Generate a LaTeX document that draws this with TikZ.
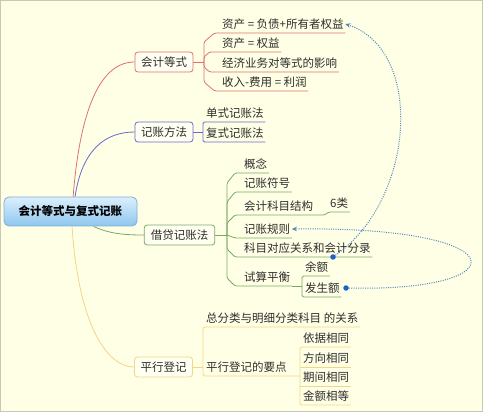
\documentclass[tikz,border=0pt]{standalone}
\usepackage{fontspec}
\setmainfont{Noto Sans CJK SC}
\usetikzlibrary{arrows.meta,calc}

\definecolor{bg}{HTML}{FFFFE6}
\definecolor{frame}{HTML}{C8C8B4}
\definecolor{boxfill}{HTML}{FFFFF2}
\definecolor{txt}{HTML}{2E2E2E}
\definecolor{redc}{HTML}{E07070}
\definecolor{bluec}{HTML}{6A6AD0}
\definecolor{greenc}{HTML}{78AA64}
\definecolor{yellowc}{HTML}{F2D585}
\definecolor{linkc}{HTML}{4A86C0}
\definecolor{dotc}{HTML}{1B62C4}
\definecolor{roottop}{HTML}{DCEFFC}
\definecolor{rootbot}{HTML}{8EC6EE}
\definecolor{rootb}{HTML}{7FAED6}

\begin{document}
\begin{tikzpicture}[x=1pt, y=-1pt,
  font=\fontsize{11.5}{14}\selectfont,
  topic/.style={rectangle, rounded corners=3pt, draw, line width=0.8pt, fill=boxfill, text=txt,
    minimum height=20pt, inner xsep=6pt, inner ysep=0pt},
  leaf/.style={anchor=south west, inner xsep=1.5pt, inner ysep=3pt, text height=10pt, text depth=1.6pt, text=txt},
  branch/.style={line width=0.8pt, rounded corners=1.5pt},
  link/.style={draw=linkc, line width=1pt, dash pattern=on 1pt off 1.3pt, -{Stealth[length=5pt,width=4.5pt]}},
  dot/.style={circle, fill=dotc, inner sep=0pt, minimum size=5.5pt}]

  \useasboundingbox (0,0) rectangle (483,412);
  \draw[fill=bg, draw=frame, line width=1pt] (0.5,0.5) rectangle (482.5,411.5);

  % centre
  \node[topic, draw=rootb, rounded corners=5pt, top color=roottop, bottom color=rootbot,
    minimum width=133pt, minimum height=29pt, font=\fontsize{11.5}{14}\selectfont\bfseries, text=black]
    (root) at (70.5,211.5) {会计等式与复式记账};

  % 会计等式
  \node[topic, draw=redc] (eq) at (164,62) {会计等式};
  \node[leaf] (eq1) at (220.5,33) {资产 = 负债+所有者权益};
  \node[leaf] (eq2) at (220.5,52) {资产 = 权益};
  \node[leaf] (eq3) at (220.5,72) {经济业务对等式的影响};
  \node[leaf] (eq4) at (220.5,91) {收入-费用 = 利润};
  \coordinate (eqJ) at (204,62);
  \draw[branch, redc] (root.80) .. controls (80,110) and (100,62) .. (eq.west);
  \draw[branch, redc] (eq.east) -- (eqJ);
  \draw[branch, redc] (eqJ) -- (204,42) -- ([xshift=-6pt]eq1.south west) -- (eq1.south east);
  \draw[branch, redc] (eqJ) -- (204,57) -- ([xshift=-11pt]eq2.south west) -- (eq2.south east);
  \draw[branch, redc] (eqJ) -- (204,67) -- ([xshift=-11pt]eq3.south west) -- (eq3.south east);
  \draw[branch, redc] (eqJ) -- (204,82) -- ([xshift=-6pt]eq4.south west) -- (eq4.south east);

  % 记账方法
  \node[topic, draw=bluec] (md) at (164,132) {记账方法};
  \node[leaf] (md1) at (204.5,122) {单式记账法};
  \node[leaf] (md2) at (204.5,142) {复式记账法};
  \draw[branch, bluec] (root.73) .. controls (82,150) and (105,132) .. (md.west);
  \draw[branch, bluec] (md.east) -- (203,132);
  \draw[branch, bluec] (md1.south east) -- ([xshift=-1.5pt]md1.south west)
    -- ([xshift=-1.5pt]md2.south west) -- (md2.south east);

  % 借贷记账法
  \node[topic, draw=greenc, inner xsep=6.5pt] (dc) at (179.5,235) {借贷记账法};
  \node[leaf] (dc1) at (242.5,173) {概念};
  \node[leaf] (dc2) at (242.5,192) {记账符号};
  \node[leaf] (dc3) at (242.5,215) {会计科目结构};
  \node[leaf] (dc4) at (242.5,238) {记账规则};
  \node[leaf] (dc5) at (242.5,257) {科目对应关系和会计分录};
  \node[leaf] (dc6) at (242.5,286) {试算平衡};
  \node[leaf] (six) at (328.5,212) {6类};
  \node[leaf] (ye) at (303.5,276) {余额};
  \node[leaf] (fs) at (303.5,297) {发生额};
  \coordinate (dcJ) at (227,235);
  \coordinate (tsJ) at (302,286);
  \draw[branch, greenc] (root.-33) .. controls (110,234) and (125,235) .. (dc.west);
  \draw[branch, greenc] (dc.east) -- (dcJ);
  \draw[branch, greenc] (dcJ) -- (227,183) -- ([xshift=-7.5pt]dc1.south west) -- (dc1.south east);
  \draw[branch, greenc] (dcJ) -- (227,202) -- ([xshift=-7.5pt]dc2.south west) -- (dc2.south east);
  \draw[branch, greenc] (dcJ) -- (227,223) -- ([xshift=-7.5pt]dc3.south west) -- (dc3.south east);
  \draw[branch, greenc] (dcJ) -- ([xshift=-7.5pt]dc4.south west) -- (dc4.south east);
  \draw[branch, greenc] (dcJ) -- (227,249) -- ([xshift=-7.5pt]dc5.south west) -- (dc5.south east);
  \draw[branch, greenc] (dcJ) -- (227,278) -- ([xshift=-7.5pt]dc6.south west) -- (dc6.south east);
  \draw[branch, greenc] (dc3.south east) -- +(10,0) -- (six.south west) -- (six.south east);
  \draw[branch, greenc] (dc6.south east) -- (tsJ);
  \draw[branch, greenc] (ye.south east) -- ([xshift=-1.5pt]ye.south west)
    -- ([xshift=-1.5pt]fs.south west) -- (fs.south east);

  % 平行登记
  \node[topic, draw=yellowc] (pd) at (163.5,367) {平行登记};
  \node[leaf] (pd1) at (204.5,327) {总分类与明细分类科目 的关系};
  \node[leaf] (pd2) at (204.5,376) {平行登记的要点};
  \node[leaf] (q1) at (301.5,347) {依据相同};
  \node[leaf] (q2) at (301.5,367) {方向相同};
  \node[leaf] (q3) at (301.5,386) {期间相同};
  \node[leaf] (q4) at (301.5,405) {金额相等};
  \coordinate (ydJ) at (300,376);
  \draw[branch, yellowc] (root.-84) .. controls (78,320) and (105,367) .. (pd.west);
  \draw[branch, yellowc] (pd.east) -- (203,367);
  \draw[branch, yellowc] (pd1.south east) -- ([xshift=-1.5pt]pd1.south west)
    -- ([xshift=-1.5pt]pd2.south west) -- (pd2.south east) -- (ydJ);
  \draw[branch, yellowc] (q1.south east) -- ([xshift=-1.5pt]q1.south west)
    -- ([xshift=-1.5pt]q4.south west) -- (q4.south east);
  \draw[branch, yellowc] (q2.south east) -- ([xshift=-1.5pt]q2.south west);
  \draw[branch, yellowc] (q3.south east) -- ([xshift=-1.5pt]q3.south west);

  % links
  \node[dot] (dotA) at (333,257) {};
  \node[dot] (dotB) at (346,288) {};
  \draw[link] (dotA) .. controls (415,200) and (425,50) .. (eq1.east);
  \draw[link] (dotB) .. controls (520,292) and (520,226) .. (dc4.east);
\end{tikzpicture}
\end{document}
